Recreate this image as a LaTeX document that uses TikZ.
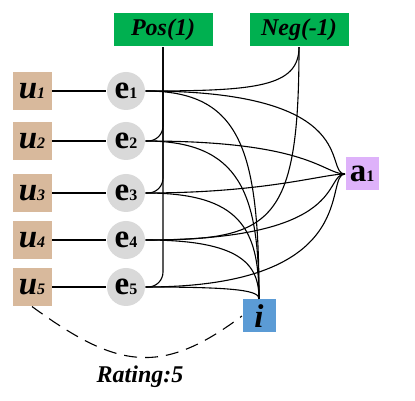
\documentclass[tikz,border=0pt]{standalone}
\usepackage{fontspec}
\setmainfont{Liberation Serif}
\usetikzlibrary{positioning}
\definecolor{utan}{RGB}{216,185,156}
\definecolor{egray}{RGB}{217,217,217}
\definecolor{tgreen}{RGB}{0,176,80}
\definecolor{apurple}{RGB}{222,178,250}
\definecolor{iblue}{RGB}{91,155,213}
\newcommand{\lowsub}[1]{{\fontsize{16}{16}\selectfont #1}}

\begin{document}
\begin{tikzpicture}[x=1pt, y=1pt, line width=1.1pt]
  \tikzset{
    ubox/.style={fill=utan, minimum width=39pt, minimum height=38pt, inner sep=0pt, font=\bfseries\itshape\fontsize{33}{33}\selectfont},
    ecirc/.style={circle, fill=egray, minimum size=38pt, inner sep=0pt, font=\bfseries\fontsize{33}{33}\selectfont},
    tag/.style={fill=tgreen, minimum width=99pt, minimum height=33pt, inner sep=0pt, font=\bfseries\itshape\fontsize{24}{24}\selectfont},
    sqbox/.style={minimum size=33pt, inner sep=0pt, font=\bfseries\fontsize{33}{33}\selectfont},
    toA/.style={out=0, in=180, out distance=#1, in distance=22pt}
  }
  \useasboundingbox (0,0) rectangle (415,401);

  \node[ubox] (u1) at (32,310) {u\lowsub{1}};
  \node[ubox] (u2) at (32,260) {u\lowsub{2}};
  \node[ubox] (u3) at (32,208) {u\lowsub{3}};
  \node[ubox] (u4) at (32,161) {u\lowsub{4}};
  \node[ubox] (u5) at (32,114) {u\lowsub{5}};

  \node[ecirc] (e1) at (126,310) {e\lowsub{1}};
  \node[ecirc] (e2) at (126,260) {e\lowsub{2}};
  \node[ecirc] (e3) at (126,208) {e\lowsub{3}};
  \node[ecirc] (e4) at (126,161) {e\lowsub{4}};
  \node[ecirc] (e5) at (126,114) {e\lowsub{5}};

  \node[tag] (pos) at (163,371) {Pos(1)};
  \node[tag] (neg) at (299,371) {Neg(-1)};
  \node[sqbox, fill=apurple] (a1) at (362,227) {a\lowsub{1}};
  \node[sqbox, fill=iblue] (item) at (259,85) {\textit{i}};
  \node[font=\bfseries\itshape\fontsize{24}{24}\selectfont] (rating) at (140,24) {Rating:5};

  %--- users to entities ---
  \draw (u1) -- (e1);
  \draw (u2) -- (e2);
  \draw (u3) -- (e3);
  \draw (u4) -- (e4);
  \draw (u5) -- (e5);

  %--- Pos(1): e2, e3, e5 ---
  \draw[rounded corners=15pt] (pos.south) |- (e2.east);
  \draw[rounded corners=15pt] (pos.south) |- (e3.east);
  \draw[rounded corners=15pt] (pos.south) |- (e5.east);

  %--- Neg(-1): e1, e4 ---
  \draw (neg.south) to[out=-90, in=0, out distance=40pt, in distance=110pt] (e1.east);
  \draw (neg.south) to[out=-90, in=0, out distance=180pt, in distance=125pt] (e4.east);

  %--- entities to a1 ---
  \draw (e1.east) to[toA=220pt] (a1.west);
  \draw (e2.east) to[toA=165pt] (a1.west);
  \draw (e3.east) to[toA=120pt] (a1.west);
  \draw (e4.east) to[toA=205pt] (a1.west);
  \draw (e5.east) to[toA=220pt] (a1.west);

  %--- entities to i ---
  \draw (e1.east) to[out=0, in=90, out distance=95pt, in distance=150pt] (item.north);
  \draw (e2.east) to[out=0, in=90, out distance=95pt, in distance=105pt] (item.north);
  \draw (e3.east) to[out=0, in=90, out distance=95pt, in distance=70pt] (item.north);
  \draw (e4.east) to[out=0, in=90, out distance=95pt, in distance=35pt] (item.north);
  \draw (e5.east) to[out=0, in=90, out distance=95pt, in distance=8pt] (item.north);

  %--- rating between u5 and i ---
  \draw[dash pattern=on 13pt off 8pt] (u5.south) to[out=-36, in=-143, distance=103pt] (item.west);
\end{tikzpicture}
\end{document}
